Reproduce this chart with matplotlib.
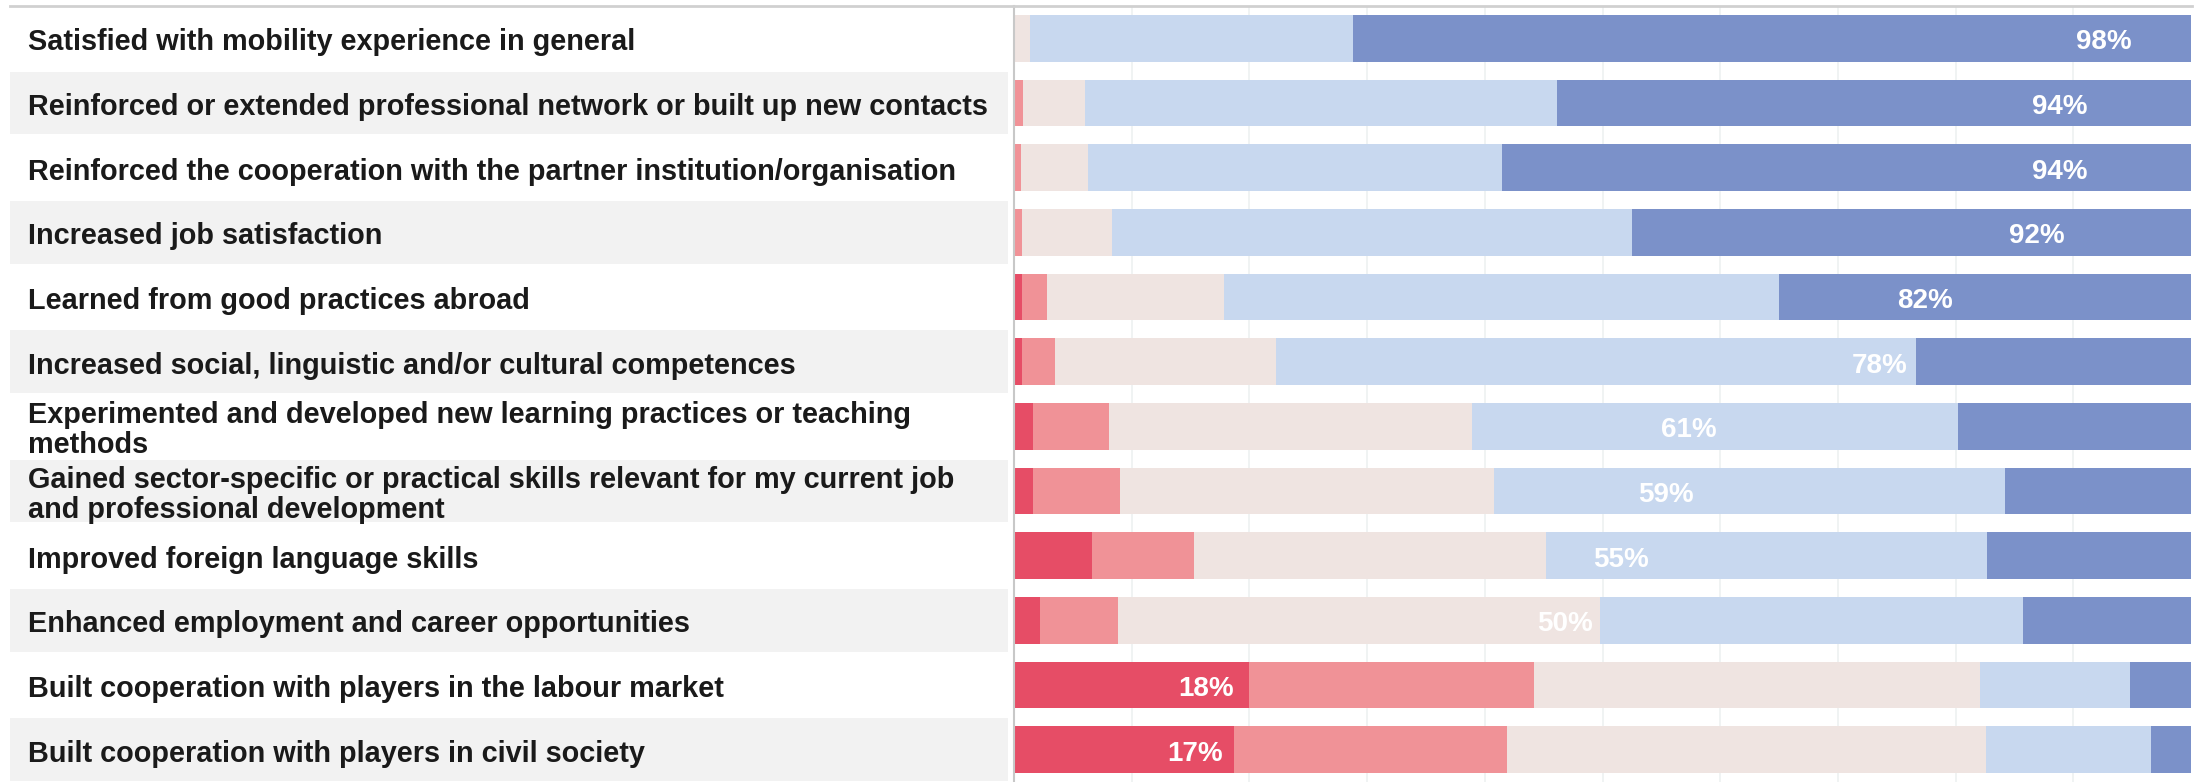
import matplotlib
matplotlib.use("Agg")
import matplotlib.pyplot as plt
from matplotlib.lines import Line2D

# statements (top to bottom)
labels = [
    "Satisfied with mobility experience in general",
    "Reinforced or extended professional network or built up new contacts",
    "Reinforced the cooperation with the partner institution/organisation",
    "Increased job satisfaction",
    "Learned from good practices abroad",
    "Increased social, linguistic and/or cultural competences",
    "Experimented and developed new learning practices or teaching\nmethods",
    "Gained sector-specific or practical skills relevant for my current job\nand professional development",
    "Improved foreign language skills",
    "Enhanced employment and career opportunities",
    "Built cooperation with players in the labour market",
    "Built cooperation with players in civil society",
]

# shares in %
strongly_disagree = [0, 0, 0, 0, 0.7, 0.7, 1.6, 1.6, 6.6, 2.2, 20.0, 18.7]
disagree = [0, 0.8, 0.6, 0.7, 2.1, 2.8, 6.5, 7.4, 8.7, 6.6, 24.2, 23.2]
neutral = [1.4, 5.2, 5.7, 7.6, 15.0, 18.8, 30.8, 31.8, 29.9, 41.0, 37.9, 40.7]
agree = [27.4, 40.1, 35.2, 44.2, 47.2, 54.3, 41.3, 43.4, 37.5, 35.9, 12.7, 14.0]
strongly_agree = [71.2, 53.9, 58.5, 47.5, 35.0, 23.4, 19.8, 15.8, 17.3, 14.3, 5.2, 3.4]

# agreement totals shown on the bars
agree_total = [98, 94, 94, 92, 82, 78, 61, 59, 55, 50, 18, 17]

colors = ["#e64d66", "#f09297", "#efe4e1", "#c8d8ef", "#7b91c9"]

W, H = 2198, 782
fig = plt.figure(figsize=(W / 100, H / 100), dpi=100)
fig.patch.set_facecolor("white")

top_px = 6
ax_h = (H - top_px) / H
dy = 0.06  # nudge text down a little

# label column
lab = fig.add_axes([0, 0, 1012 / W, ax_h])
lab.set_xlim(0, 1012)
lab.set_ylim(len(labels) - 0.5, -0.5)
lab.axis("off")
for i, txt in enumerate(labels):
    if i % 2 == 1:
        lab.barh(i, 998, left=10, height=0.97, color="#f2f2f2", linewidth=0)
    lab.text(28, i + dy, txt, ha="left", va="center", fontsize=20.8,
             fontweight="bold", color="#1a1a1a", family="Liberation Sans",
             linespacing=1.08)

# bar area
ax = fig.add_axes([1014 / W, 0, 1177 / W, ax_h])
ax.set_xlim(0, 100)
ax.set_ylim(len(labels) - 0.5, -0.5)
ys = list(range(len(labels)))

left = [0] * len(labels)
for vals, c in zip([strongly_disagree, disagree, neutral, agree, strongly_agree], colors):
    ax.barh(ys, vals, left=left, height=0.72, color=c, linewidth=0, zorder=2)
    left = [a + b for a, b in zip(left, vals)]

for y, v in zip(ys, agree_total):
    ax.text(0.954 * v + 1.5, y + dy, f"{v}%", ha="right", va="center",
            fontsize=20, fontweight="bold", color="white",
            family="Liberation Sans", zorder=3)

for g in range(10, 100, 10):
    ax.axvline(g, color="#edf1f1", linewidth=1.2, zorder=1)

ax.set_xticks([])
ax.set_yticks([])
for s in ["top", "right", "bottom"]:
    ax.spines[s].set_visible(False)
ax.spines["left"].set_color("#c8c8c8")
ax.spines["left"].set_linewidth(1.5)

# top border line
fig.add_artist(Line2D([10 / W, 2192 / W], [1 - top_px / H, 1 - top_px / H],
                      color="#d0d0d0", linewidth=2))

fig.savefig("out.png", dpi=100, facecolor="white")
